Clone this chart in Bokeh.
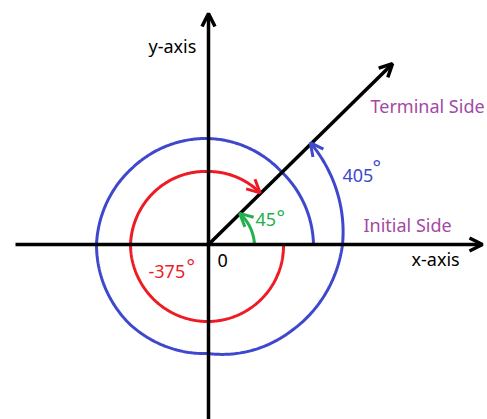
import numpy as np
from bokeh.plotting import figure
from bokeh.models import Arrow, OpenHead, Range1d
from bokeh.embed import file_html
from bokeh.resources import INLINE
from bokeh.core.properties import value

# ---- data (angles in degrees, radii in px-units of the drawing) ----
terminal_angle = 44.5
terminal_length = 258
red_angles = [0, -90, -180, -270, -315]
red_radii = [75, 77, 78, 73, 73]
blue_angles = [0, 45, 90, 135, 180, 225, 270, 315, 360, 405]
blue_radii = [105, 103, 106, 108, 112, 112, 109, 120, 134, 144]
green_angles = [0, 45]
green_radii = [46, 44]
axis_labels = ["x-axis", "y-axis"]
side_labels = ["Initial Side", "Terminal Side"]
origin_label = "0"
angle_labels = ["45", "405", "-375"]
degree = "°"

RED = "#ED1C24"
BLUE = "#3F48CC"
GREEN = "#22B14C"
PURPLE = "#A349A4"
FONT = value("Noto Sans")

p = figure(width=487, height=419, output_backend="svg", toolbar_location=None,
           x_range=Range1d(-208, 279), y_range=Range1d(-175, 244),
           min_border=0, outline_line_color=None)
p.axis.visible = False
p.grid.visible = False


def spiral(angles, radii, n=500):
    a = np.asarray(angles, float)
    r = np.asarray(radii, float)
    th = np.linspace(a[0], a[-1], n)
    if a[-1] < a[0]:
        rr = np.interp(-th, -a, r)
    else:
        rr = np.interp(th, a, r)
    t = np.radians(th)
    return rr * np.cos(t), rr * np.sin(t)


def head(color, size, lw):
    return OpenHead(size=size, line_width=lw, line_color=color)


# axes
p.add_layout(Arrow(end=head("black", 13, 3.5), x_start=-193, y_start=0, x_end=274, y_end=0,
                   line_width=3.5, line_color="black"))
p.add_layout(Arrow(end=head("black", 13, 3.5), x_start=0, y_start=-180, x_end=0, y_end=231,
                   line_width=3.5, line_color="black"))

# terminal side
ta = np.radians(terminal_angle)
p.add_layout(Arrow(end=head("black", 13, 3.5), x_start=0, y_start=0,
                   x_end=terminal_length * np.cos(ta), y_end=terminal_length * np.sin(ta),
                   line_width=3.5, line_color="black"))

# curves
for angs, rads, col in [(red_angles, red_radii, RED), (blue_angles, blue_radii, BLUE),
                        (green_angles, green_radii, GREEN)]:
    xs, ys = spiral(angs, rads)
    p.line(xs, ys, line_color=col, line_width=3)
    p.add_layout(Arrow(end=head(col, 13, 3), x_start=xs[-8], y_start=ys[-8],
                       x_end=xs[-1], y_end=ys[-1], line_alpha=0))


def txt(x, y, s, color, size="18px"):
    p.text(x=[x], y=[y], text=[s], text_font=FONT, text_font_size=size,
           text_color=color, text_baseline="alphabetic", text_align="left")


txt(-60, 199, axis_labels[1], "black")
txt(203, -14, axis_labels[0], "black")
txt(9, -16, origin_label, "black")
txt(162, 139, side_labels[1], PURPLE)
txt(155, 20, side_labels[0], PURPLE)
txt(134, 69, angle_labels[1], BLUE)
txt(164, 77, degree, BLUE, "20px")
txt(47, 25, angle_labels[0], GREEN)
txt(68, 27, degree, GREEN, "20px")
txt(-60, -27, angle_labels[2], RED)
txt(-22, -22, degree, RED, "20px")

open("out.html", "w").write(file_html(p, INLINE))
